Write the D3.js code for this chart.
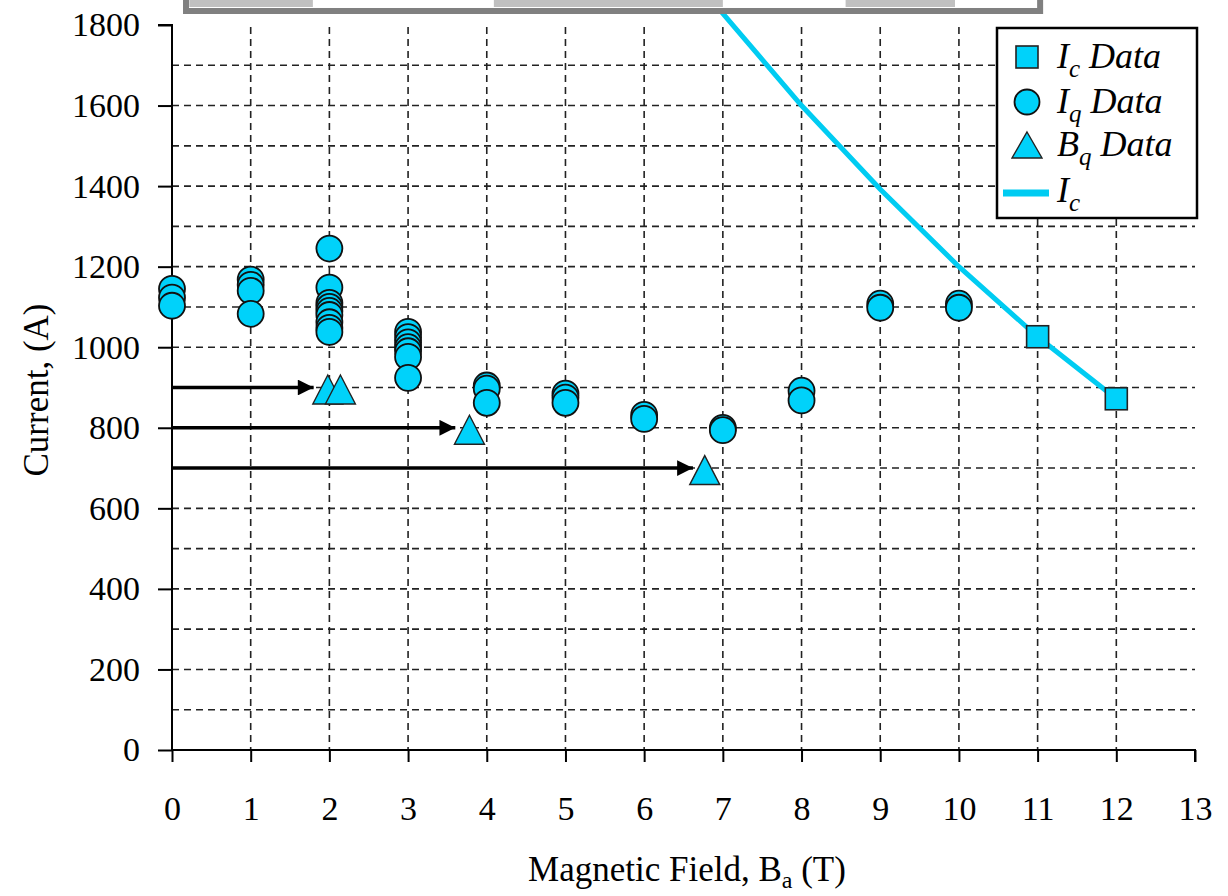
<!DOCTYPE html>
<html>
<head>
<meta charset="UTF-8">
<script src="https://d3js.org/d3.v7.min.js"></script>
<style>
  body { margin: 0; background: #fff; }
  text { font-family: "Liberation Serif", "Times New Roman", serif; fill: #000; }
</style>
</head>
<body>
<svg id="chart" width="1228" height="896"></svg>
<script>
// measured points: x = magnetic field (T), y = current (A)
const iqX = [0, 0, 0, 1, 1, 1, 1, 2, 2, 2, 2, 2, 2, 2, 2, 2,
             3, 3, 3, 3, 3, 3, 3, 4, 4, 4, 5, 5, 5, 6, 6, 7, 7, 8, 8, 9, 9, 10, 10];
const iqY = [1145, 1123, 1103, 1168, 1155, 1140, 1083, 1245, 1148, 1110, 1100, 1090, 1080, 1062, 1048, 1038,
             1038, 1025, 1012, 1000, 990, 976, 924, 905, 897, 862, 885, 875, 862, 832, 822, 800, 794, 892, 868, 1108, 1098, 1108, 1098];
const icDataX = [11, 12];
const icDataY = [1026, 872];
const bqX = [1.98, 2.14, 3.78, 6.77];
const bqY = [900, 900, 800, 700];
const icLineX = [6.95, 8, 9, 10, 11, 12];
const icLineY = [1840, 1600, 1392, 1200, 1026, 872];
// arrows from the current axis to the quench field
const arrowY = [900, 800, 700];
const arrowEnd = [1.8, 3.6, 6.62];
// clipped grey strip at the very top (in field units)
const stripEdges = [0.14, 11.07];
const stripGrey = [[0.22, 1.79], [4.09, 7.0], [8.56, 9.95]];

const xTicks = d3.range(0, 14);
const yTicks = d3.range(0, 1801, 200);
const yGrid = d3.range(100, 1800, 100);

const width = 1228, height = 896;
const margin = { top: 25, right: 33, bottom: 146, left: 172 };
const svg = d3.select("#chart");

const x = d3.scaleLinear().domain([0, 13]).range([margin.left, width - margin.right]);
const y = d3.scaleLinear().domain([0, 1800]).range([height - margin.bottom, margin.top]);

const cyan = "#00d2fa";
const lineCyan = "#00ccf2";

// grid
svg.append("g").selectAll("line").data(yGrid).enter().append("line")
    .attr("x1", x(0)).attr("x2", x(13))
    .attr("y1", d => y(d)).attr("y2", d => y(d))
    .attr("stroke", "#222").attr("stroke-width", 1.6).attr("stroke-dasharray", "7,5");
svg.append("g").selectAll("line").data(xTicks.filter(d => d > 0 && d < 13)).enter().append("line")
    .attr("x1", d => x(d)).attr("x2", d => x(d))
    .attr("y1", y(1800) + 2).attr("y2", y(0))
    .attr("stroke", "#222").attr("stroke-width", 1.6).attr("stroke-dasharray", "7,5");

// axes
const gx = svg.append("g")
    .attr("transform", `translate(0,${y(0)})`)
    .call(d3.axisBottom(x).tickValues(xTicks).tickSize(12).tickPadding(34).tickFormat(d3.format("d")));
const gy = svg.append("g")
    .attr("transform", `translate(${x(0)},0)`)
    .call(d3.axisLeft(y).tickValues(yTicks).tickSize(14).tickPadding(18).tickFormat(d3.format("d")));
[gx, gy].forEach(g => {
    g.select(".domain").attr("stroke", "#000").attr("stroke-width", 2);
    g.selectAll(".tick line").attr("stroke", "#000").attr("stroke-width", 2);
    g.selectAll(".tick text").attr("fill", "#000")
        .style("font-family", "'Liberation Serif', serif").style("font-size", "34px");
});
gy.select(".domain").attr("d", `M-14,${y(1800)}H0V${y(0)}`);
gx.select(".domain").attr("d", `M0,0H${x(13) - x(0)}V12`).attr("transform", `translate(${x(0)},0)`);

// axis titles
svg.append("text")
    .attr("x", 687).attr("y", 881)
    .attr("text-anchor", "middle")
    .style("font-size", "35px")
    .call(t => {
        t.append("tspan").text("Magnetic Field, B");
        t.append("tspan").attr("dy", 7).style("font-size", "24px").text("a");
        t.append("tspan").attr("dy", -7).text(" (T)");
    });
svg.append("text")
    .attr("transform", "translate(36,390) rotate(-90)")
    .attr("text-anchor", "middle")
    .attr("dominant-baseline", "central")
    .style("font-size", "35px")
    .text("Current, (A)");

// arrows
const defs = svg.append("defs");
defs.append("marker")
    .attr("id", "arrow").attr("viewBox", "0 0 10 10")
    .attr("refX", 10).attr("refY", 5)
    .attr("markerWidth", 5).attr("markerHeight", 4.4)
    .attr("markerUnits", "strokeWidth").attr("orient", "auto")
    .append("path").attr("d", "M0,0L10,5L0,10Z").attr("fill", "#000");
svg.append("g").selectAll("line").data(arrowY).enter().append("line")
    .attr("x1", x(0)).attr("x2", (d, i) => x(arrowEnd[i]))
    .attr("y1", d => y(d)).attr("y2", d => y(d))
    .attr("stroke", "#000").attr("stroke-width", 3.6)
    .attr("marker-end", "url(#arrow)");

// Ic curve
const line = d3.line().x(d => x(d[0])).y(d => y(d[1]));
svg.append("path")
    .datum(icLineX.map((d, i) => [d, icLineY[i]]))
    .attr("d", line)
    .attr("fill", "none").attr("stroke", lineCyan).attr("stroke-width", 5);

// Iq circles
svg.append("g").selectAll("circle").data(iqX.map((d, i) => [d, iqY[i]])).enter().append("circle")
    .attr("cx", d => x(d[0])).attr("cy", d => y(d[1])).attr("r", 13)
    .attr("fill", cyan).attr("stroke", "#111").attr("stroke-width", 1.8);

// Bq triangles
const tri = (cx, cy, w, h) => `M${cx},${cy - h / 2}L${cx + w / 2},${cy + h / 2}L${cx - w / 2},${cy + h / 2}Z`;
svg.append("g").selectAll("path").data(bqX.map((d, i) => [d, bqY[i]])).enter().append("path")
    .attr("d", d => tri(x(d[0]), y(d[1]) + 2, 30, 29))
    .attr("fill", cyan).attr("stroke", "#222").attr("stroke-width", 1.4);

// Ic squares
svg.append("g").selectAll("rect").data(icDataX.map((d, i) => [d, icDataY[i]])).enter().append("rect")
    .attr("x", d => x(d[0]) - 11).attr("y", d => y(d[1]) - 11)
    .attr("width", 22).attr("height", 22)
    .attr("fill", cyan).attr("stroke", "#222").attr("stroke-width", 1.6);

// clipped grey strip at the top
const strip = svg.append("g");
strip.append("rect")
    .attr("x", x(stripEdges[0])).attr("y", -10)
    .attr("width", x(stripEdges[1]) - x(stripEdges[0])).attr("height", 24)
    .attr("fill", "#808080");
strip.append("rect")
    .attr("x", x(stripEdges[0]) + 6).attr("y", -10)
    .attr("width", x(stripEdges[1]) - x(stripEdges[0]) - 12).attr("height", 18)
    .attr("fill", "#fff");
strip.selectAll(".seg").data(stripGrey).enter().append("rect")
    .attr("class", "seg")
    .attr("x", d => x(d[0])).attr("y", -10)
    .attr("width", d => x(d[1]) - x(d[0])).attr("height", 17)
    .attr("fill", "#c0c0c0");

// legend
const legend = svg.append("g").attr("transform", "translate(997,28)");
legend.append("rect")
    .attr("width", 200).attr("height", 190)
    .attr("fill", "#fff").attr("stroke", "#000").attr("stroke-width", 2.5);
const legendItems = [
    { sym: "square", sub: "c", main: "I", rest: " Data", cy: 29 },
    { sym: "circle", sub: "q", main: "I", rest: " Data", cy: 74 },
    { sym: "triangle", sub: "q", main: "B", rest: " Data", cy: 117 },
    { sym: "line", sub: "c", main: "I", rest: "", cy: 163 }
];
legendItems.forEach(it => {
    const g = legend.append("g");
    if (it.sym === "square") {
        g.append("rect").attr("x", 19).attr("y", it.cy - 11).attr("width", 22).attr("height", 22)
            .attr("fill", cyan).attr("stroke", "#222").attr("stroke-width", 1.6);
    } else if (it.sym === "circle") {
        g.append("circle").attr("cx", 30).attr("cy", it.cy).attr("r", 12.5)
            .attr("fill", cyan).attr("stroke", "#111").attr("stroke-width", 1.8);
    } else if (it.sym === "triangle") {
        g.append("path").attr("d", tri(30, it.cy, 30, 26))
            .attr("fill", cyan).attr("stroke", "#222").attr("stroke-width", 1.4);
    } else {
        g.append("line").attr("x1", 6).attr("x2", 52).attr("y1", it.cy + 2).attr("y2", it.cy + 2)
            .attr("stroke", lineCyan).attr("stroke-width", 7);
    }
    g.append("text")
        .attr("x", 60).attr("y", it.cy + 11)
        .style("font-size", "36px").style("font-style", "italic")
        .call(t => {
            t.append("tspan").text(it.main);
            t.append("tspan").attr("dy", 9).style("font-size", "25px").text(it.sub);
            if (it.rest) t.append("tspan").attr("dy", -9).text(it.rest);
        });
});
</script>
</body>
</html>
